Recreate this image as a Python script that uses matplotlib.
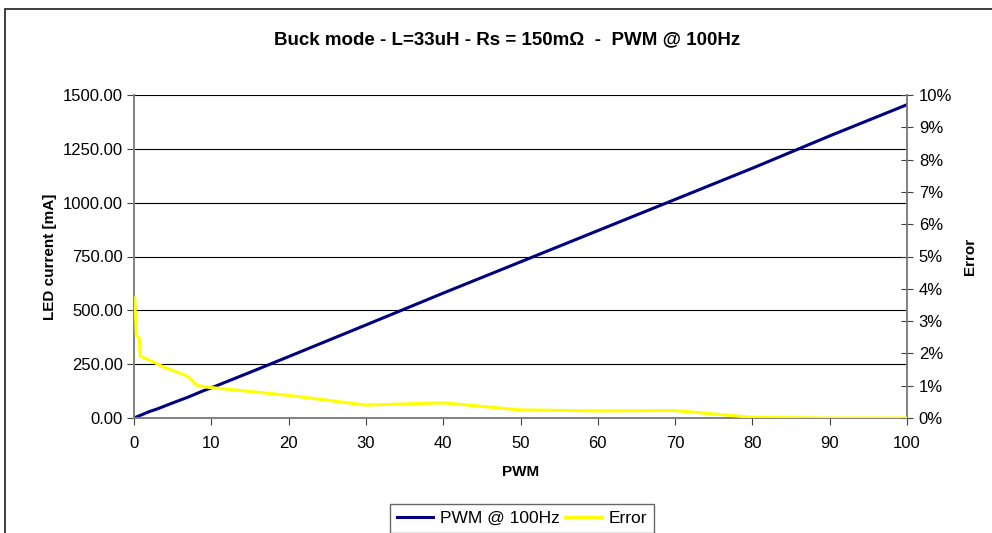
import matplotlib
matplotlib.use("Agg")
import matplotlib.pyplot as plt
from matplotlib.patches import Rectangle
from matplotlib.ticker import PercentFormatter, MultipleLocator

plt.rcParams['font.family'] = ['Liberation Sans', 'DejaVu Sans']

# PWM duty (x) and measured LED current [mA]
pwm = [0, 1, 2, 3, 5, 7, 8, 9, 10, 15, 20, 30, 40, 50, 60, 70, 80, 90, 100]
current = [0, 15, 30, 42, 70, 97, 112, 127, 140, 212, 285, 432, 580, 725, 870, 1015, 1160, 1310, 1455]

# error curve (fraction)
err_pwm = [0.1, 0.3, 0.65, 0.8, 2.9, 3.8, 6.6, 7.2, 8.1, 9.2, 11.8, 20, 30, 40, 50, 60, 70, 80, 90, 100]
err = [0.0372, 0.0257, 0.025, 0.0192, 0.0169, 0.0158, 0.0133, 0.0124, 0.0102, 0.0096,
       0.0090, 0.0070, 0.0040, 0.0047, 0.0025, 0.0022, 0.0023, 0.0002, 0.0, 0.0]

fig = plt.figure(figsize=(9.92, 5.33), dpi=100)

# outer chart frame (cut at right and bottom like the original)
fig.patches.append(Rectangle((5 / 992, -0.2), 1.2, 1.2 - 9 / 533,
                             transform=fig.transFigure, fill=False,
                             edgecolor='#303030', lw=1.3))

ax = fig.add_axes([134 / 992, 1 - 418 / 533, (907 - 134) / 992, (418 - 95) / 533])
ax2 = ax.twinx()

ax.plot(pwm, current, color='#000080', lw=2.2, label='PWM @ 100Hz', zorder=3)
ax2.plot(err_pwm, err, color='#FFFF00', lw=2.2, label='Error', zorder=3)

ax.set_xlim(0, 100)
ax.set_ylim(0, 1500)
ax2.set_ylim(0, 0.10)
ax.xaxis.set_major_locator(MultipleLocator(10))
ax.yaxis.set_major_locator(MultipleLocator(250))
ax.yaxis.set_major_formatter(lambda v, p: f"{v:.2f}")
ax2.yaxis.set_major_locator(MultipleLocator(0.01))
ax2.yaxis.set_major_formatter(PercentFormatter(1.0, decimals=0))

ax.grid(axis='y', color='black', lw=0.8)
ax.set_axisbelow(True)

for a in (ax, ax2):
    a.spines['top'].set_visible(False)
    for s in ('left', 'right', 'bottom'):
        a.spines[s].set_color('#808080')
        a.spines[s].set_linewidth(1.2)

ax.tick_params(axis='y', labelsize=12, length=5, color='#404040', pad=3)
ax.tick_params(axis='x', labelsize=12, length=5, color='#404040', pad=8)
ax2.tick_params(axis='y', labelsize=12, direction='inout', length=9, color='#404040', pad=4)

ax.set_xlabel('PWM', fontsize=11, fontweight='bold', labelpad=10)
ax.set_ylabel('LED current [mA]', fontsize=11, fontweight='bold', labelpad=4)
ax2.set_ylabel('Error', fontsize=11, fontweight='bold', labelpad=8)

fig.text(507 / 992, 1 - 40 / 533, 'Buck mode - L=33uH - Rs = 150mΩ  -  PWM @ 100Hz',
         ha='center', va='center', fontsize=13.5, fontweight='bold')

h1, l1 = ax.get_legend_handles_labels()
h2, l2 = ax2.get_legend_handles_labels()
leg = fig.legend(h1 + h2, l1 + l2, loc='upper left', ncol=2,
                 bbox_to_anchor=(390 / 992, 1 - 504 / 533), fontsize=12.5,
                 frameon=True, fancybox=False, edgecolor='#404040',
                 handlelength=2.1, columnspacing=0.3, handletextpad=0.4,
                 borderpad=0.4, borderaxespad=0)
leg.get_frame().set_linewidth(1.0)

fig.savefig('out.png', dpi=100)
